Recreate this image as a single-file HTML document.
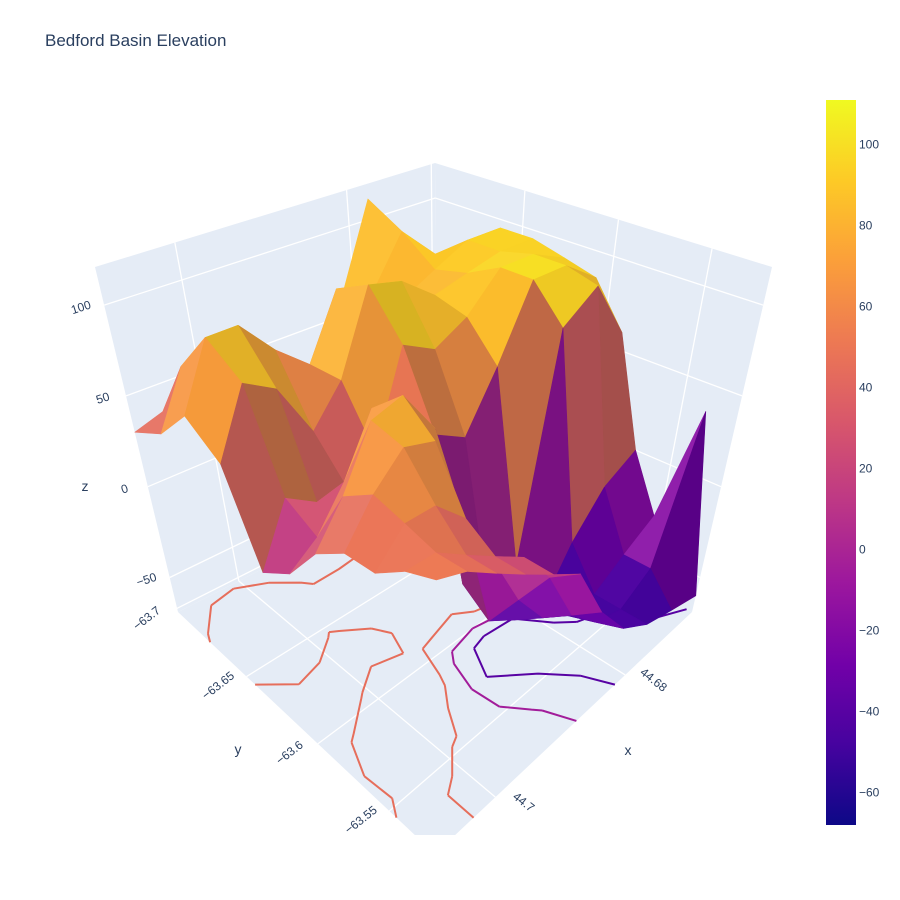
<!DOCTYPE html>
<html><head><meta charset="utf-8">
<style>
html,body{margin:0;padding:0;background:#fff;}
svg{display:block;font-family:"Liberation Sans",sans-serif;}
</style></head>
<body>
<svg id="chart" width="900" height="900" viewBox="0 0 900 900" xmlns="http://www.w3.org/2000/svg">
<defs>
<clipPath id="sceneClip"><rect x="0" y="60" width="815" height="775"/></clipPath>
<linearGradient id="cbGrad" x1="0" y1="1" x2="0" y2="0">
<stop offset="0" stop-color="#0d0887"/><stop offset="0.111" stop-color="#46039f"/>
<stop offset="0.222" stop-color="#7201a8"/><stop offset="0.333" stop-color="#9c179e"/>
<stop offset="0.444" stop-color="#bd3786"/><stop offset="0.556" stop-color="#d8576b"/>
<stop offset="0.667" stop-color="#ed7953"/><stop offset="0.778" stop-color="#fb9f3a"/>
<stop offset="0.889" stop-color="#fdca26"/><stop offset="1" stop-color="#f0f921"/>
</linearGradient>
</defs>
<text x="45" y="46" font-size="17" fill="#2a3f5f">Bedford Basin Elevation</text>
<g id="scene" clip-path="url(#sceneClip)"></g>
<g id="colorbar">
<rect x="826" y="100" width="30" height="725" fill="url(#cbGrad)"/>
</g>
</svg>
<script>
// ---- data ----
const yTicks = [-63.7, -63.65, -63.6, -63.55];
const yTickLabels = ["−63.7", "−63.65", "−63.6", "−63.55"];
const xTicks = [44.68, 44.7];
const xTickLabels = ["44.68", "44.7"];
const zTicks = [-50, 0, 50, 100];
const zTickLabels = ["−50", "0", "50", "100"];
const cbTicks = [100, 80, 60, 40, 20, 0, -20, -40, -60];
const cbTickLabels = ["100", "80", "60", "40", "20", "0", "−20", "−40", "−60"];
// elevation grid: rows = x index (x min..max), columns = y index (y min..max)
const zRow0  = [40, 60, 95, 95, 90, 85, 60, 0, -30, 35, -60];
const zRow1  = [70, 80, 95, 95, 100, 100, 95, -10, -40, -40, -55];
const zRow2  = [112, 100, 85, 90, 100, 100, 80, -30, -50, -50, -50];
const zRow3  = [60, 70, 75, 85, 80, 60, -40, -55, -50, -45, -40];
const zRow4  = [20, 40, 80, 100, 70, 30, -50, -50, -40, -30, -20];
const zRow5  = [10, 30, 95, 105, 80, 40, -30, -40, -20, 0, 10];
const zRow6  = [20, 40, 60, 60, 30, 50, 60, 20, 10, 20, 20];
const zRow7  = [30, 60, 75, 40, 20, 70, 85, 70, 40, 30, 30];
const zRow8  = [40, 75, 95, 70, 20, 40, 80, 75, 55, 40, 40];
const zRow9  = [35, 70, 95, 80, 30, 20, 50, 60, 55, 50, 50];
const zRow10 = [30, 40, 60, 45, 0, 10, 30, 40, 40, 50, 55];
const zGrid = [zRow0,zRow1,zRow2,zRow3,zRow4,zRow5,zRow6,zRow7,zRow8,zRow9,zRow10];
const contourLevels = [45, -5, -40];

// ---- axis functions ----
const X0=44.6697, X1=44.7093, Y0=-63.698, Y1=-63.518, Z0=-69, Z1=121, CMIN=-68, CMAX=111;
const FL={L:[178,612],F:[435,854],R:[692,612],B:[437,480]};
const TP={L:[95,267],F:[437,434],R:[772,267],B:[435,163]};
function bil(c,a,b){
  return [0,1].map(k=>(1-a)*(1-b)*c.B[k]+(1-a)*b*c.L[k]+a*b*c.F[k]+a*(1-b)*c.R[k]);
}
function proj(a,b,w){const f=bil(FL,a,b),t=bil(TP,a,b);return [f[0]+w*(t[0]-f[0]),f[1]+w*(t[1]-f[1])];}
const ya=v=>(v-Y0)/(Y1-Y0), xb=v=>(v-X0)/(X1-X0), zw=v=>(v-Z0)/(Z1-Z0);
const pal=["#0d0887","#46039f","#7201a8","#9c179e","#bd3786","#d8576b","#ed7953","#fb9f3a","#fdca26","#f0f921"];
function hex(h){return [1,3,5].map(i=>parseInt(h.substr(i,2),16));}
function cmap(z,s){let t=Math.max(0,Math.min(1,(z-CMIN)/(CMAX-CMIN)))*9;const i=Math.min(8,Math.floor(t)),f=t-i;
  const a=hex(pal[i]),b=hex(pal[i+1]);let c=a.map((v,k)=>v+(b[k]-v)*f);
  if(s<1){c=[c[0]*s,c[1]*(0.35+0.65*s),c[2]*s];}else{c=c.map(v=>v+(255-v)*(s-1));}
  return "rgb("+c.map(v=>Math.round(Math.max(0,Math.min(255,v)))).join(",")+")";}
const NS="http://www.w3.org/2000/svg";
const scene=document.getElementById('scene');
function mk(tag,attrs,parent){const e=document.createElementNS(NS,tag);for(const k in attrs)e.setAttribute(k,attrs[k]);(parent||scene).appendChild(e);return e;}
const P=pts=>pts.map(p=>p[0].toFixed(1)+","+p[1].toFixed(1)).join(" ");

// panes
const floor=mk('polygon',{points:P([FL.L,FL.F,FL.R,FL.B]),fill:"#e5ecf6"});

const lw=mk('polygon',{points:P([FL.L,FL.B,TP.B,TP.L]),fill:"#e5ecf6"});

const rw=mk('polygon',{points:P([FL.R,FL.B,TP.B,TP.R]),fill:"#e5ecf6"});

function line(p,q,name){const l=mk('line',{x1:p[0],y1:p[1],x2:q[0],y2:q[1],stroke:"#fff","stroke-width":1.3});
  }
yTicks.forEach(v=>{const a=ya(v);line(proj(a,0,0),proj(a,1,0),'y-gridline-floor');line(proj(a,0,0),proj(a,0,1),'y-gridline-wall');});
xTicks.forEach(v=>{const b=xb(v);line(proj(0,b,0),proj(1,b,0),'x-gridline-floor');line(proj(0,b,0),proj(0,b,1),'x-gridline-wall');});
zTicks.forEach(v=>{const w=zw(v);line(proj(0,1,w),proj(0,0,w),'z-gridline-left');line(proj(0,0,w),proj(1,0,w),'z-gridline-right');});

// tick labels
function lab(txt,p,rot,name,size){if(!txt)return;const t=mk('text',{x:p[0],y:p[1],"font-size":size||12,fill:"#2a3f5f","text-anchor":"middle",transform:`rotate(${rot} ${p[0]} ${p[1]})`});
  t.textContent=txt;}
yTicks.forEach((v,i)=>{const p=proj(ya(v),1,0);lab(yTickLabels[i],[p[0]-26,p[1]+12],-38,'y-tick-label');});
xTicks.forEach((v,i)=>{const p=proj(1,xb(v),0);lab(xTickLabels[i],[p[0]+26,p[1]+8],38,'x-tick-label');});
zTicks.forEach((v,i)=>{const p=proj(0,1,zw(v));lab(zTickLabels[i],[p[0]-22,p[1]+6],-18,'z-tick-label');});
lab("z",[85,491],0,'z-axis-title',14);lab("y",[238,754],0,'y-axis-title',14);lab("x",[628,755],0,'x-axis-title',14);

// floor contours (marching squares)
const n=zGrid.length-1, m=zGrid[0].length-1;
const contourG=mk('g',{fill:"none","stroke-width":2});

contourLevels.forEach(L=>{
  const col=cmap(L,1);let d="";
  for(let i=0;i<n;i++)for(let j=0;j<m;j++){
    const c=[[i,j],[i+1,j],[i+1,j+1],[i,j+1]];const pts=[];
    for(let k=0;k<4;k++){const p=c[k],q=c[(k+1)%4];const zp=zGrid[p[0]][p[1]],zq=zGrid[q[0]][q[1]];
      if((zp<L)!==(zq<L)){const t=(L-zp)/(zq-zp);const bi=(p[0]+t*(q[0]-p[0]))/n,aj=(p[1]+t*(q[1]-p[1]))/m;pts.push(proj(aj,bi,0));}}
    for(let k=0;k+1<pts.length;k+=2)d+="M"+pts[k][0].toFixed(1)+","+pts[k][1].toFixed(1)+"L"+pts[k+1][0].toFixed(1)+","+pts[k+1][1].toFixed(1);
  }
  const pa=mk('path',{d:d,stroke:col},contourG);
  
});

// surface
const surf=mk('g',{});

const quads=[];
for(let i=0;i<n;i++)for(let j=0;j<m;j++)quads.push([i,j]);
quads.sort((p,q)=>(p[0]/n+p[1]/m)-(q[0]/n+q[1]/m));
quads.forEach(([i,j])=>{
  const c=[[i,j],[i+1,j],[i+1,j+1],[i,j+1]];
  const pts=c.map(([bi,aj])=>proj(aj/m,bi/n,zw(zGrid[bi][aj])));
  const zs=c.map(([bi,aj])=>zGrid[bi][aj]);const zavg=zs.reduce((s,v)=>s+v,0)/4;
  const dzb=((zs[1]+zs[2])-(zs[0]+zs[3]))/2, dza=((zs[2]+zs[3])-(zs[0]+zs[1]))/2;
  let s=1+0.005*Math.max(-50,Math.min(20,dza))-0.0015*Math.max(-40,Math.min(40,dzb));
  s=Math.max(0.74,Math.min(1.08,s));
  const col=cmap(zavg,s);
  const q=mk('polygon',{points:P(pts),fill:col,stroke:col,"stroke-width":0.6,"stroke-linejoin":"round"},surf);
  
});

// colorbar ticks
const cb=document.getElementById('colorbar');
const cbY=v=>825-(v-CMIN)/(CMAX-CMIN)*725;
cbTicks.forEach((v,i)=>{const t=document.createElementNS(NS,'text');
  t.setAttribute('x',859);t.setAttribute('y',cbY(v)+4);t.setAttribute('font-size',12);t.setAttribute('fill','#2a3f5f');
  t.textContent=cbTickLabels[i];
  
  
  cb.appendChild(t);});
</script>
</body></html>
